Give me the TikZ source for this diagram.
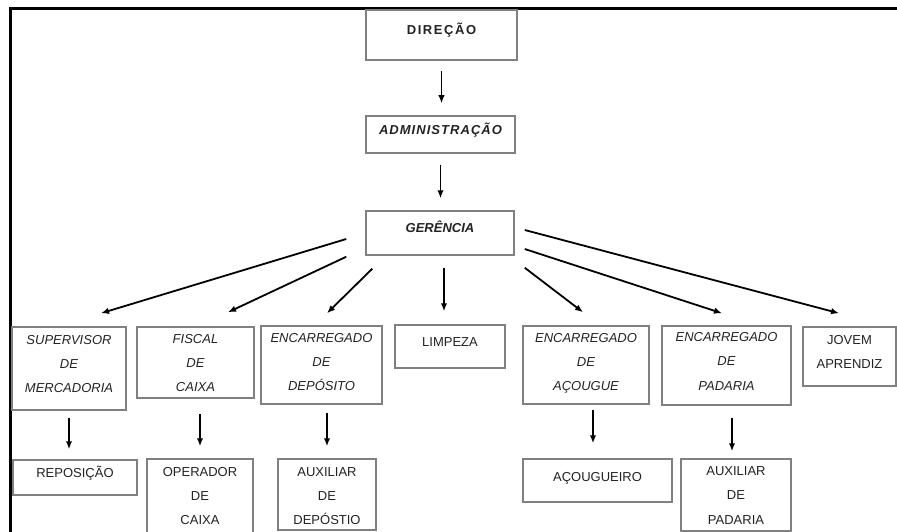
\documentclass[tikz,border=0pt]{standalone}
\usepackage{fontspec}
\setmainfont{Liberation Sans}
\usetikzlibrary{arrows.meta, calc}
\definecolor{linha}{HTML}{808080}
\definecolor{texto}{HTML}{222222}
\newcommand{\cargo}[4][17pt]{\parbox[c][#3][t]{#2}{\centering\rule{0pt}{#1}#4}}

\begin{document}
\begin{tikzpicture}[x=1pt, y=-1pt, >={Latex[length=8pt,width=6.5pt]},
    bloco/.style = {draw = linha, line width = 1.5pt, inner sep = 0pt, text = texto, font = \fontsize{13}{24.2}\selectfont},
    seta/.style = {line width = 1.8pt}]
  \useasboundingbox (0,0) rectangle (897,532);
  \draw[line width = 2.8pt] (10.7,532) -- (10.7,8.7) -- (897,8.7);

  \node[bloco] (dir)  at (441.5,35)  {\cargo[25pt]{151pt}{50pt}{\bfseries\addfontfeatures{LetterSpace=12}DIREÇÃO}};
  \node[bloco] (adm)  at (440.5,134.5) {\cargo[19pt]{149pt}{37pt}{\bfseries\itshape\addfontfeatures{LetterSpace=8}ADMINISTRAÇÃO}};
  \node[bloco] (ger)  at (440,233)   {\cargo[21.5pt]{148pt}{44pt}{\bfseries\itshape GERÊNCIA}};

  \node[bloco] (sup)  at (69,368.5)  {\cargo{114pt}{83pt}{\itshape SUPERVISOR\\DE\\MERCADORIA}};
  \node[bloco] (fis)  at (195.5,362.5) {\cargo[16pt]{117pt}{71pt}{\itshape FISCAL\\DE\\CAIXA}};
  \node[bloco] (edep) at (321.5,365) {\cargo[16pt]{121pt}{78pt}{\itshape ENCARREGADO\\DE\\DEPÓSITO}};
  \node[bloco] (lim)  at (450,346.5) {\cargo[21.5pt]{110pt}{43pt}{LIMPEZA}};
  \node[bloco] (eaco) at (586,365)   {\cargo[16.3pt]{126pt}{78pt}{\itshape ENCARREGADO\\DE\\AÇOUGUE}};
  \node[bloco] (epad) at (726.5,365.5) {\cargo[15.7pt]{129pt}{79pt}{\itshape ENCARREGADO\\DE\\PADARIA}};
  \node[bloco] (jov)  at (849.5,356.5) {\cargo{93pt}{59pt}{JOVEM\\APRENDIZ}};

  \node[bloco] (rep)  at (75,477.5)  {\cargo{124pt}{35pt}{REPOSIÇÃO}};
  \node[bloco] (oper) at (200,502)   {\cargo{106pt}{86pt}{OPERADOR\\DE\\CAIXA}};
  \node[bloco] (auxd) at (327,494.5) {\cargo{98pt}{71pt}{AUXILIAR\\DE\\DEPÓSTIO}};
  \node[bloco] (acou) at (597.5,480.5) {\cargo[22pt]{149pt}{43pt}{AÇOUGUEIRO}};
  \node[bloco] (auxp) at (736,495)   {\cargo[16.7pt]{110pt}{72pt}{AUXILIAR\\DE\\PADARIA}};

  \path[->, seta] (dir.south) edge[shorten <=10pt, shorten >=12pt] (dir.south |- adm.north)
                  (adm.south) edge[shorten <=11pt, shorten >=12pt] (adm.south |- ger.north);

  \path[->, seta] ($(ger.west)+(-19,6)$)        edge ($(sup.north)+(32,-13)$)
                  ($(ger.south west)+(-19,1)$)  edge ($(fis.north)+(32.5,-14)$)
                  ($(ger.south west)+(7,13)$)   edge ($(edep.north)+(5.5,-12)$)
                  ($(ger.south)+(4,12)$)        edge ($(lim.north)+(-6,-13)$)
                  ($(ger.south east)+(10,12)$)  edge ($(eaco.north)+(-3,-13)$)
                  ($(ger.east)+(10,16)$)        edge ($(epad.north)+(-4.5,-12)$)
                  ($(ger.east)+(10,-3)$)        edge ($(jov.north)+(-10.5,-13)$);

  \path[->, seta] (sup.south) edge[shorten <=7pt, shorten >=10pt] (sup.south |- rep.north)
                  (oper.north |- fis.south) edge[shorten <=15pt, shorten >=12pt] (oper.north)
                  (auxd.north |- edep.south) edge[shorten <=8pt, shorten >=12pt] (auxd.north)
                  ($(eaco.south)+(7,0)$) edge[shorten <=5pt, shorten >=15pt] ($(eaco.south |- acou.north)+(7,0)$)
                  ($(epad.south)+(5.5,0)$) edge[shorten <=12pt, shorten >=7pt] ($(epad.south |- auxp.north)+(5.5,0)$);
\end{tikzpicture}
\end{document}
